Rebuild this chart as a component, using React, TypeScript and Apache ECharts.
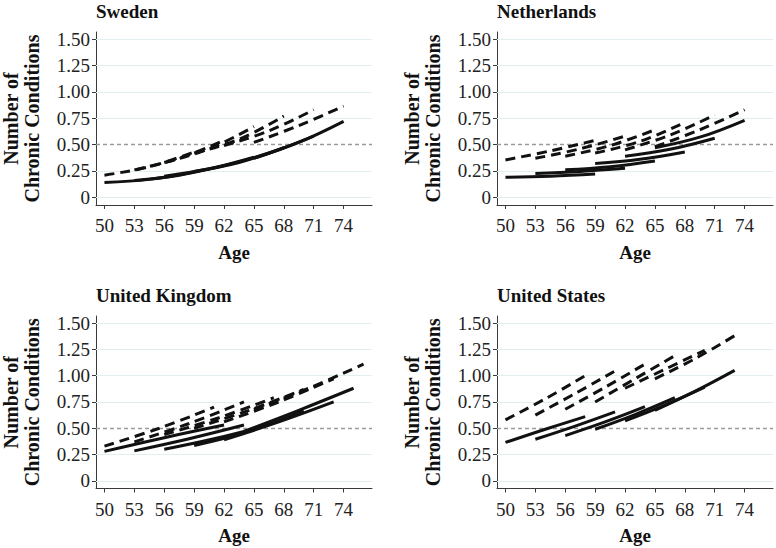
import React, { useEffect, useRef } from "react";
import * as echarts from "echarts";

// ---- Data ----
const countries = ["Sweden", "Netherlands", "United Kingdom", "United States"];
const xTicks = [50, 53, 56, 59, 62, 65, 68, 71, 74];
const yTicks = [0, 0.25, 0.5, 0.75, 1, 1.25, 1.5];
const refLevel = 0.5;

// cohort [start age, end age]; values at start, midpoint, end
const seAges = [[50, 59], [53, 62], [56, 65], [59, 68], [62, 71], [65, 74]];
const seSolid = [
  [0.14, 0.17, 0.24],
  [0.16, 0.21, 0.3],
  [0.2, 0.27, 0.38],
  [0.245, 0.33, 0.47],
  [0.3, 0.42, 0.58],
  [0.37, 0.52, 0.72],
];
const seDashed = [
  [0.21, 0.29, 0.43],
  [0.26, 0.37, 0.54],
  [0.33, 0.46, 0.67],
  [0.42, 0.55, 0.77],
  [0.49, 0.63, 0.83],
  [0.52, 0.68, 0.865],
];

const nlAges = [[50, 59], [53, 62], [56, 65], [59, 68], [62, 71], [65, 74]];
const nlSolid = [
  [0.19, 0.2, 0.22],
  [0.225, 0.245, 0.275],
  [0.26, 0.29, 0.345],
  [0.32, 0.36, 0.43],
  [0.39, 0.455, 0.56],
  [0.47, 0.57, 0.73],
];
const nlDashed = [
  [0.354, 0.44, 0.54],
  [0.37, 0.46, 0.58],
  [0.39, 0.49, 0.64],
  [0.42, 0.53, 0.71],
  [0.45, 0.59, 0.78],
  [0.48, 0.64, 0.83],
];

const ukSolidAges = [[50, 62], [53, 64], [56, 66], [59, 70], [62, 73], [64, 75]];
const ukSolid = [
  [0.28, 0.41, 0.53],
  [0.285, 0.4, 0.53],
  [0.3, 0.4, 0.52],
  [0.335, 0.47, 0.665],
  [0.39, 0.56, 0.75],
  [0.47, 0.67, 0.88],
];
const ukDashedAges = [[50, 61], [53, 64], [56, 67], [59, 70], [62, 73], [65, 76]];
const ukDashed = [
  [0.33, 0.5, 0.7],
  [0.37, 0.545, 0.75],
  [0.44, 0.6, 0.79],
  [0.5, 0.67, 0.87],
  [0.56, 0.75, 0.97],
  [0.68, 0.88, 1.11],
];

const usAges = [[50, 58], [53, 61], [56, 64], [59, 67], [62, 70], [65, 73]];
const usSolid = [
  [0.365, 0.49, 0.61],
  [0.395, 0.52, 0.655],
  [0.43, 0.56, 0.705],
  [0.49, 0.63, 0.79],
  [0.57, 0.72, 0.89],
  [0.67, 0.85, 1.05],
];
const usDashed = [
  [0.58, 0.78, 1.0],
  [0.625, 0.83, 1.045],
  [0.68, 0.89, 1.11],
  [0.75, 0.97, 1.19],
  [0.88, 1.06, 1.24],
  [0.97, 1.16, 1.38],
];

const panelData = [
  { solidAges: seAges, solid: seSolid, dashedAges: seAges, dashed: seDashed },
  { solidAges: nlAges, solid: nlSolid, dashedAges: nlAges, dashed: nlDashed },
  { solidAges: ukSolidAges, solid: ukSolid, dashedAges: ukDashedAges, dashed: ukDashed },
  { solidAges: usAges, solid: usSolid, dashedAges: usAges, dashed: usDashed },
];

// ---- Layout ----
const layout = [
  { left: 96, top: 32, width: 276, height: 173 },
  { left: 497, top: 32, width: 276, height: 173 },
  { left: 96, top: 316, width: 276, height: 172.5 },
  { left: 497, top: 316, width: 276, height: 172.5 },
];
const xMin = 49.15;
const xMax = 76.85;
const yMin = -0.073;
const yMax = 1.567;

const SERIF = '"Liberation Serif", "DejaVu Serif", serif';
const AXIS_COLOR = "#3a3a3a";
const LINE_COLOR = "#111";

function cohortSeries(ages: number[][], vals: number[][], dashed: boolean, gi: number) {
  return ages.map((a, k) => ({
    type: "line",
    xAxisIndex: gi,
    yAxisIndex: gi,
    data: [
      [a[0], vals[k][0]],
      [(a[0] + a[1]) / 2, vals[k][1]],
      [a[1], vals[k][2]],
    ],
    smooth: 0.4,
    symbol: "none",
    showSymbol: false,
    silent: true,
    z: 5,
    lineStyle: {
      color: LINE_COLOR,
      width: 3,
      type: dashed ? [10, 6] : "solid",
      cap: "butt",
    },
  }));
}

export default function App() {
  const ref = useRef<HTMLDivElement>(null);
  useEffect(() => {
    if (!ref.current) return;
    const chart = echarts.init(ref.current, null, { renderer: "svg" });

    const series: any[] = [];
    const graphic: any[] = [];
    layout.forEach((p, i) => {
      // gridlines
      series.push({
        type: "line",
        xAxisIndex: i,
        yAxisIndex: i,
        data: [],
        silent: true,
        z: 1,
        markLine: {
          silent: true,
          symbol: "none",
          label: { show: false },
          lineStyle: { color: "#e2eff0", width: 1, type: "solid" },
          data: yTicks.filter((v) => v !== refLevel).map((v) => ({ yAxis: v })),
        },
      });
      // reference line
      series.push({
        type: "line",
        xAxisIndex: i,
        yAxisIndex: i,
        data: [],
        silent: true,
        z: 2,
        markLine: {
          silent: true,
          symbol: "none",
          label: { show: false },
          lineStyle: { color: "#9a9a9a", width: 1.4, type: [4, 3] },
          data: [{ yAxis: refLevel }],
        },
      });
      const d = panelData[i];
      series.push(...cohortSeries(d.solidAges, d.solid, false, i));
      series.push(...cohortSeries(d.dashedAges, d.dashed, true, i));

      graphic.push({
        type: "text",
        x: p.left,
        y: p.top - 21,
        style: {
          text: countries[i],
          font: `bold 19px ${SERIF}`,
          fill: "#111",
          textAlign: "left",
          textVerticalAlign: "middle",
        },
      });
      graphic.push({
        type: "text",
        x: p.left - 75,
        y: p.top + p.height / 2,
        rotation: Math.PI / 2,
        style: {
          text: "Number of\nChronic Conditions",
          font: `bold 20px ${SERIF}`,
          lineHeight: 21,
          fill: "#111",
          textAlign: "center",
          textVerticalAlign: "middle",
        },
      });
      graphic.push({
        type: "text",
        x: p.left + p.width / 2,
        y: p.top + p.height + 47,
        style: {
          text: "Age",
          font: `bold 19px ${SERIF}`,
          fill: "#111",
          textAlign: "center",
          textVerticalAlign: "middle",
        },
      });
    });

    const option: any = {
      animation: false,
      backgroundColor: "#ffffff",
      grid: layout.map((p) => ({ left: p.left, top: p.top, width: p.width, height: p.height })),
      xAxis: layout.map((_, i) => ({
        type: "value",
        gridIndex: i,
        min: xMin,
        max: xMax,
        axisLine: { show: true, onZero: false, lineStyle: { color: AXIS_COLOR, width: 1 } },
        axisTick: { show: true, customValues: xTicks, length: 4, lineStyle: { color: AXIS_COLOR } },
        axisLabel: {
          customValues: xTicks,
          margin: 11,
          fontSize: 19,
          fontFamily: SERIF,
          color: "#222",
        },
        splitLine: { show: false },
      })),
      yAxis: layout.map((_, i) => ({
        type: "value",
        gridIndex: i,
        min: yMin,
        max: yMax,
        axisLine: { show: true, onZero: false, lineStyle: { color: AXIS_COLOR, width: 1 } },
        axisTick: { show: true, customValues: yTicks, length: 4, lineStyle: { color: AXIS_COLOR } },
        axisLabel: {
          customValues: yTicks,
          margin: 6,
          fontSize: 19,
          fontFamily: SERIF,
          color: "#222",
          formatter: (v: number) => (Math.abs(v) < 1e-9 ? "0" : v.toFixed(2)),
        },
        splitLine: { show: false },
      })),
      series,
      graphic,
    };
    chart.setOption(option);
    return () => chart.dispose();
  }, []);

  return (
    <div
      ref={ref}
      style={{ position: "fixed", left: 0, top: 0, width: 776, height: 548, background: "#fff" }}
    />
  );
}
